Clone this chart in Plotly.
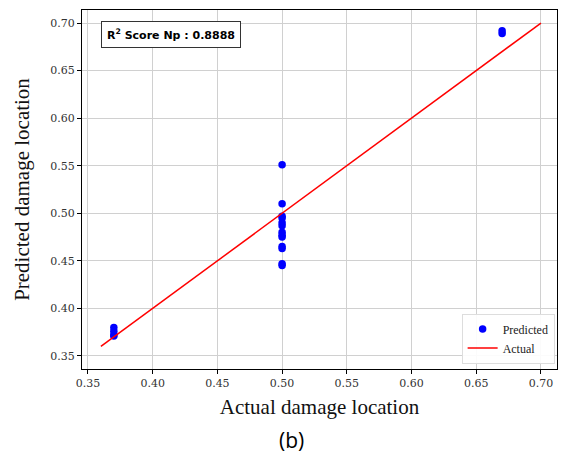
import plotly.graph_objects as go

actual = [0.37, 0.37, 0.37, 0.37,
          0.50, 0.50, 0.50, 0.50, 0.50, 0.50, 0.50, 0.50, 0.50, 0.50, 0.50, 0.50, 0.50,
          0.67, 0.67]
predicted = [0.380, 0.376, 0.372, 0.371,
             0.551, 0.510, 0.497, 0.495, 0.490, 0.487, 0.480, 0.477, 0.475, 0.465, 0.463, 0.447, 0.445,
             0.692, 0.689]
line_x = [0.36, 0.70]
line_y = [0.36, 0.70]
ticks = [0.35, 0.40, 0.45, 0.50, 0.55, 0.60, 0.65, 0.70]
r2_text = "R<sup>2</sup> Score Np : 0.8888"

fig = go.Figure()
fig.add_trace(go.Scatter(x=actual, y=predicted, mode="markers", name="Predicted",
                         marker=dict(color="#0000ff", size=7.5, line=dict(width=0))))
fig.add_trace(go.Scatter(x=line_x, y=line_y, mode="lines", name="Actual",
                         line=dict(color="#ff0000", width=1.5)))

axis_common = dict(
    showgrid=True, gridcolor="#d0d0d0", gridwidth=1,
    showline=True, linecolor="black", linewidth=1, mirror=True,
    ticks="outside", ticklen=4, tickcolor="black",
    tickvals=ticks, ticktext=[f"{t:.2f}" for t in ticks],
    tickfont=dict(family="DejaVu Serif", size=11, color="#333"),
    zeroline=False,
)
fig.update_layout(
    width=569, height=461,
    margin=dict(l=82, r=12, t=10, b=92),
    paper_bgcolor="white", plot_bgcolor="white",
    showlegend=True,
    legend=dict(x=0.995, y=0.015, xanchor="right", yanchor="bottom",
                bgcolor="rgba(255,255,255,0.9)", bordercolor="#dddddd", borderwidth=1,
                font=dict(family="Liberation Serif", size=12, color="#222"),
                itemwidth=30, tracegroupgap=0),
    xaxis=dict(range=[0.3454, 0.7124],
               title=dict(text="Actual damage location", font=dict(family="Liberation Serif", size=21, color="#111"), standoff=10),
               **axis_common),
    yaxis=dict(range=[0.3363, 0.7137],
               title=dict(text="Predicted damage location", font=dict(family="Liberation Serif", size=21, color="#111"), standoff=14),
               **axis_common),
)
fig.add_annotation(xref="paper", yref="paper", x=0.04, y=0.97, xanchor="left", yanchor="top",
                   text=r2_text, showarrow=False,
                   font=dict(family="DejaVu Sans", size=11, color="black", weight="bold"),
                   bgcolor="white", bordercolor="#333", borderwidth=1, borderpad=5)
fig.add_annotation(xref="paper", yref="paper", x=0.44, y=-0.198, xanchor="center", yanchor="middle",
                   text="(b)", showarrow=False,
                   font=dict(family="Open Sans", size=21, color="black"))
fig.write_html("out.html")
